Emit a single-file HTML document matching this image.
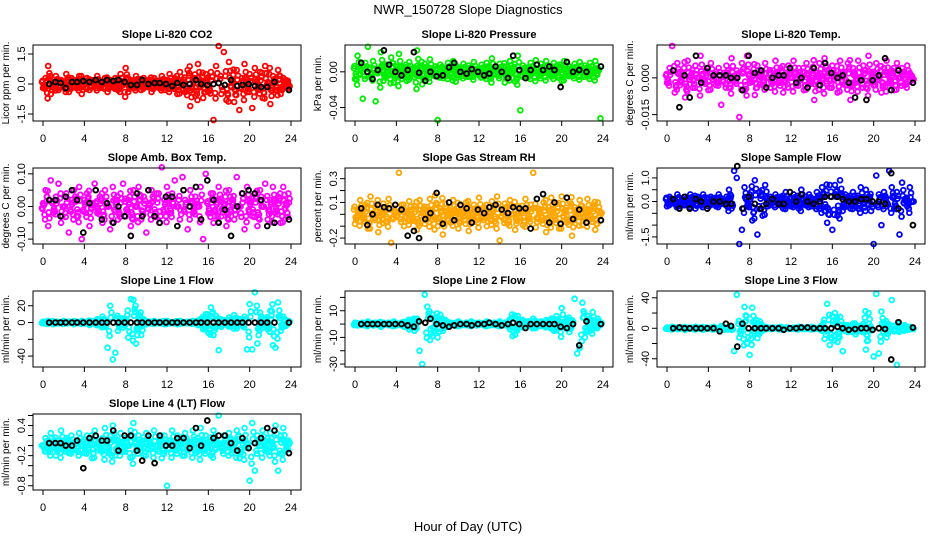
<!DOCTYPE html>
<html><head><meta charset="utf-8">
<style>
html,body{margin:0;padding:0;background:#fff;}
svg{display:block;font-family:"Liberation Sans",sans-serif;}
</style></head>
<body>
<svg id="chart" width="936" height="540" viewBox="0 0 936 540" xmlns="http://www.w3.org/2000/svg">
<rect x="0" y="0" width="936" height="540" fill="#fff"/>
<text x="468" y="14" text-anchor="middle" font-size="13">NWR_150728  Slope Diagnostics</text>
<text x="468" y="531" text-anchor="middle" font-size="13">Hour of Day (UTC)</text>
</svg>
<script>
const hours = [0,0.25,0.5,0.75,1,1.25,1.5,1.75,2,2.25,2.5,2.75,3,3.25,3.5,3.75,4,4.25,4.5,4.75,5,5.25,5.5,5.75,
6,6.25,6.5,6.75,7,7.25,7.5,7.75,8,8.25,8.5,8.75,9,9.25,9.5,9.75,10,10.25,10.5,10.75,11,11.25,11.5,11.75,
12,12.25,12.5,12.75,13,13.25,13.5,13.75,14,14.25,14.5,14.75,15,15.25,15.5,15.75,16,16.25,16.5,16.75,17,17.25,17.5,17.75,
18,18.25,18.5,18.75,19,19.25,19.5,19.75,20,20.25,20.5,20.75,21,21.25,21.5,21.75,22,22.25,22.5,22.75,23,23.25,23.5,23.75];
const blackHours = [0.6,1.2,1.7,2.2,2.8,3.3,3.9,4.5,5.1,5.7,6.2,6.8,7.3,7.9,8.5,9.1,9.6,10.2,10.8,11.3,
11.9,12.5,13.0,13.6,14.2,14.8,15.3,15.9,16.5,17.0,17.6,18.2,18.8,19.3,19.9,20.5,21.1,21.7,22.4,23.8];

const co2Vals = [-0.2,0.3,0.9,-0.5,0.1,0.4,-0.3,0.2,-0.1,0.5,-0.4,0.3,
0.2,-0.2,0.4,-0.5,0.1,0.3,-0.3,0.2,-0.1,0.4,-0.2,0.1,
0.3,-0.4,0.2,-0.1,0.3,-0.3,0.5,0.1,0.8,-0.4,0.2,-0.2,
0.4,0.1,-0.3,0.3,-0.1,0.2,-0.4,0.3,0.1,-0.2,0.4,-0.3,
0.2,0.5,-0.1,0.3,-0.5,0.6,0.1,-0.4,0.7,-1.1,0.3,-0.6,
1.0,0.2,-0.7,0.5,-0.4,0.6,-1.8,0.9,1.9,-0.5,1.6,-0.8,
1.1,0.2,-0.9,0.7,-1.3,0.3,1.0,-0.4,0.5,-1.2,0.8,-0.2,
0.6,-0.7,0.9,0.1,-1.0,0.4,-0.3,0.7,-0.5,0.3,0.2,-0.2];
const co2Black = [0.0,0.1,0.05,-0.2,0.1,0.1,0.15,0.1,0.2,0.1,0.2,0.15,0.2,0.1,-0.05,-0.05,0.2,0.0,0.05,0.05,
0.0,-0.1,0.05,-0.05,0.0,0.2,0.0,-0.05,0.0,0.05,-0.05,0.2,-0.1,-0.05,0.0,-0.1,-0.15,-0.15,0.1,-0.3];

const presVals = [-0.008,0.018,0.004,-0.030,0.010,0.028,-0.006,0.012,-0.033,0.002,0.022,-0.010,
0.008,-0.004,0.016,-0.012,0.006,0.020,-0.008,0.003,-0.010,0.011,0.002,-0.006,
0.024,0.006,-0.014,0.009,-0.004,0.014,-0.002,0.006,-0.054,0.008,-0.007,0.004,
0.010,-0.003,0.012,-0.011,0.005,0.001,0.009,-0.005,0.007,-0.002,0.011,0.003,
-0.004,0.008,0.002,0.010,-0.006,0.015,0.004,-0.003,0.009,0.001,-0.012,0.006,
0.012,0.002,-0.011,0.018,-0.043,0.007,0.004,-0.006,0.010,0.002,0.013,-0.004,
0.009,0.001,0.012,-0.003,0.006,0.010,-0.002,0.008,-0.010,0.012,0.003,0.006,
-0.004,0.009,0.002,0.011,-0.001,0.007,0.003,0.010,-0.002,0.012,0.004,-0.052];
const presBlack = [0.010,0.000,-0.008,0.002,0.024,0.008,0.000,-0.004,0.002,0.022,-0.001,-0.010,0.000,-0.005,-0.004,0.005,0.010,0.000,-0.002,0.003,
0.000,-0.004,-0.002,0.006,0.000,-0.007,0.018,0.002,-0.007,0.002,0.008,0.002,0.006,0.002,-0.017,0.011,0.000,0.002,0.000,0.006];

const tempVals = [-0.002,0.004,0.013,-0.006,0.006,-0.003,0.002,-0.008,0.007,0.001,-0.004,0.005,
0.000,0.009,-0.002,0.003,-0.005,0.006,0.001,-0.003,0.004,-0.011,0.002,0.005,
-0.004,0.008,-0.001,0.003,-0.016,0.006,-0.005,0.009,-0.002,0.002,-0.007,0.005,
0.001,-0.003,0.006,0.000,-0.004,0.003,0.007,-0.002,0.004,-0.006,0.002,0.005,
0.000,0.007,-0.003,0.004,0.001,-0.005,0.006,-0.002,0.003,-0.009,0.002,0.006,
-0.001,0.008,0.003,-0.004,0.005,0.001,-0.006,0.007,0.002,-0.003,0.006,-0.009,
0.004,-0.002,0.007,0.000,0.005,-0.004,0.009,0.002,-0.003,0.006,0.001,-0.006,
0.004,0.007,-0.002,0.003,-0.005,0.006,0.000,0.004,-0.003,0.005,0.002,-0.001];
const tempBlack = [0.003,-0.012,0.001,-0.008,0.009,-0.002,0.004,0.001,0.001,0.001,0.000,0.000,-0.005,0.009,0.002,0.003,-0.004,0.000,0.001,0.001,
0.004,-0.002,0.000,-0.004,0.004,-0.003,0.006,0.002,0.000,0.001,-0.002,-0.008,-0.001,-0.009,-0.001,0.001,0.008,-0.005,0.003,-0.002];

const ambVals = [0.01,0.05,-0.06,0.08,-0.02,0.03,0.07,-0.05,0.00,0.04,-0.08,0.02,
0.05,-0.03,0.06,-0.10,0.02,0.04,-0.06,0.01,0.07,-0.02,0.03,-0.05,
0.05,0.00,-0.07,0.06,0.02,-0.04,0.04,0.07,-0.03,0.02,-0.06,0.05,
0.00,0.06,-0.04,0.03,-0.08,0.01,0.05,-0.03,0.04,-0.05,0.12,0.02,
0.06,-0.02,0.04,0.08,0.00,-0.04,0.09,0.02,-0.07,0.05,-0.02,0.03,
0.00,0.06,-0.10,0.10,-0.02,0.04,-0.05,0.02,0.06,-0.03,0.01,-0.06,
0.05,0.02,-0.04,0.09,0.00,0.04,-0.07,0.06,0.02,-0.03,0.04,-0.06,
0.05,0.00,0.07,-0.04,0.02,0.06,-0.02,0.03,-0.05,0.06,0.01,0.04];
const ambBlack = [0.02,0.02,-0.03,0.03,0.05,0.02,-0.08,0.01,0.05,-0.04,0.01,-0.05,0.00,-0.03,-0.09,0.04,-0.03,0.05,-0.03,-0.05,
0.03,0.03,-0.06,0.05,0.00,0.06,-0.04,0.08,0.02,-0.05,-0.01,-0.09,0.00,0.04,0.05,0.04,0.02,-0.06,-0.05,-0.04];

const rhVals = [-0.08,0.04,0.12,-0.03,0.08,-0.12,0.15,-0.01,0.06,-0.15,0.02,0.09,
-0.06,0.13,-0.24,0.05,-0.02,0.35,0.08,-0.10,0.03,0.11,-0.05,0.07,
-0.13,0.12,0.02,-0.08,0.06,0.13,-0.04,0.16,-0.10,0.05,-0.17,0.09,
0.01,-0.07,0.12,0.03,-0.12,0.07,-0.02,0.10,-0.14,0.04,0.08,-0.05,
0.14,-0.03,0.06,-0.10,0.02,0.11,-0.06,0.15,-0.22,0.03,0.09,-0.08,
0.12,0.00,-0.13,0.07,0.04,-0.09,0.13,-0.04,0.08,0.35,-0.11,0.05,
-0.05,0.10,-0.15,0.06,0.14,-0.02,0.09,-0.12,0.15,0.03,-0.07,0.11,
-0.18,0.06,0.01,0.12,-0.09,0.04,0.13,-0.04,0.08,-0.13,0.10,0.02];
const rhBlack = [0.05,-0.09,0.00,0.08,0.06,0.05,0.08,0.04,-0.18,-0.14,-0.20,-0.04,0.01,0.18,-0.08,0.10,-0.05,0.08,0.05,-0.07,
0.04,0.01,0.06,0.08,0.04,0.01,0.06,0.05,0.05,-0.12,0.13,0.17,-0.07,0.10,-0.08,0.14,-0.04,0.04,-0.07,-0.05];

const flowVals = [-0.2,0.2,0.1,-0.1,0.3,-0.2,0.0,0.2,-0.1,0.3,0.1,-0.3,
0.2,-0.1,0.3,0.0,-0.2,0.2,0.1,-0.2,0.3,-0.1,0.0,0.2,
0.5,-0.3,1.3,1.0,-1.8,-1.2,0.6,-0.2,0.3,-0.8,0.9,-1.4,
0.4,-0.6,0.7,-0.2,0.2,0.0,0.3,-0.1,0.2,-0.3,0.4,0.0,
-0.2,0.3,0.1,-0.3,0.5,-0.1,0.2,0.3,-0.2,0.1,0.4,-0.3,
0.6,-0.4,-0.9,0.7,-1.2,0.7,-0.6,0.9,-0.4,0.3,0.2,-0.3,
0.4,0.1,-0.3,0.6,-0.1,0.5,0.2,-0.4,-1.8,1.1,0.3,-1.0,
0.4,-0.2,1.3,0.6,-0.3,0.4,-1.4,0.8,0.1,-0.2,0.6,0.0];
const flowBlack = [0.1,-0.3,0.2,-0.3,0.1,0.0,-0.3,0.0,0.0,-0.1,-0.1,1.5,-0.3,0.2,-0.1,-0.3,-0.1,0.1,-0.1,-0.1,
0.4,0.0,0.3,0.0,-0.1,0.0,0.2,0.2,0.2,0.1,0.0,0.0,0.1,0.1,0.0,0.0,-0.1,1.2,-0.3,-1.0];

const line1Vals = [1,-1,2,0,-2,1,-1,0,2,-1,1,0,
-2,1,0,2,-1,1,-3,2,0,4,-3,7,
-5,-30,20,-44,-36,-10,5,-6,4,-18,28,27,
-25,10,-15,4,-2,1,-1,2,0,-1,1,-2,
2,-1,0,1,-2,2,-1,0,1,-1,2,0,
-3,4,-8,10,-12,18,-15,8,-33,-5,3,-2,
6,-4,9,-7,4,-3,7,-32,22,-32,36,-25,
12,-6,4,-8,14,-27,-30,24,-10,7,-4,2];
const line1Black = [0,0,0,0,0,0,0,0,0,0,0,0,0,0,0,0,0,0,0,0,
0,0,0,0,0,0,0,0,0,0,0,0,0,0,0,0,0,0,0,0];

const line2Vals = [1,-1,0,1,-1,2,0,-1,1,0,-2,1,
0,1,-1,2,-1,0,1,-2,2,-4,3,-5,
4,-20,-30,22,13,-12,-9,4,-10,7,-5,3,
-2,1,0,-1,2,-1,0,1,-1,2,0,-1,
1,0,-1,2,-1,0,1,-1,2,0,1,-1,
-4,-9,-8,6,-2,3,-1,2,-1,4,-3,1,
2,-1,3,-2,4,-5,6,-3,12,-2,4,-6,
3,19,-22,-18,16,-10,6,-5,9,-2,4,1];
const line2Black = [0,0,0,0,0,0,0,0,-1,-2,2,1,4,0,-1,-2,-1,0,0,-1,
0,0,1,0,-1,0,1,0,-3,0,0,0,0,0,-2,-3,0,-16,2,0];

const line3Vals = [1,-1,2,0,-1,1,0,-2,1,0,-1,2,
0,1,-2,1,0,-1,2,-1,0,3,-2,1,
2,-2,-30,44,-12,4,28,-20,-35,27,8,-13,
9,-3,2,0,-1,1,0,-1,2,0,1,-1,
0,1,-1,2,0,-1,1,0,2,-1,0,1,
4,-14,32,-22,16,20,-18,15,-30,4,-5,2,
6,-8,3,-2,6,-28,20,-3,-37,45,-33,22,
8,-12,5,37,-4,-48,6,-3,4,-2,2,-1];
const line3Black = [0,1,0,0,0,0,0,0,-4,6,3,-24,6,0,0,0,0,0,0,-2,
0,0,1,1,0,0,0,0,2,0,-2,-1,0,0,-2,0,-1,-41,8,1];

const line4Vals = [0.0,0.15,-0.1,0.25,0.05,-0.2,0.1,0.3,-0.05,0.15,-0.15,0.2,
0.05,-0.1,0.25,0.0,-0.15,0.2,0.1,-0.25,0.3,0.05,-0.1,0.15,
0.35,-0.05,0.2,0.4,-0.2,0.1,0.25,-0.1,0.15,0.0,0.3,0.45,
-0.1,0.2,0.05,-0.2,0.25,0.1,-0.05,0.3,0.0,0.15,-0.25,0.2,
-0.8,0.1,0.3,-0.1,0.2,0.05,-0.2,0.25,0.1,0.0,0.3,-0.15,
0.15,0.35,-0.1,0.2,0.05,-0.2,0.3,0.1,0.6,-0.05,0.2,0.0,
0.25,-0.15,0.1,0.3,-0.25,0.15,0.35,0.05,-0.7,0.45,-0.5,0.2,
0.0,0.3,-0.1,0.15,0.25,-0.05,0.4,-0.5,0.2,0.35,-0.1,0.1];
const line4Black = [0.05,0.05,0.05,0.0,0.0,0.1,-0.45,0.15,0.2,0.1,0.1,0.3,-0.1,0.2,0.2,-0.1,-0.3,0.2,-0.35,0.2,
0.0,0.0,0.15,0.15,-0.05,0.35,0.0,0.5,0.15,0.2,0.2,0.05,-0.1,0.15,-0.05,0.05,0.15,0.35,0.3,-0.15];

const titles = ["Slope Li-820 CO2","Slope Li-820 Pressure","Slope Li-820 Temp.","Slope Amb. Box Temp.","Slope Gas Stream RH","Slope Sample Flow","Slope Line 1 Flow","Slope Line 2 Flow","Slope Line 3 Flow","Slope Line 4 (LT) Flow"];
const yTitles = ["Licor ppm per min.","kPa per min.","degrees C per min.","degrees C per min.","percent per min.","ml/min per min.","ml/min per min.","ml/min per min.","ml/min per min.","ml/min per min."];
const yTicks = [[-1.5,0,1.5],[-0.04,0],[-0.015,0],[-0.1,-0.05,0,0.05,0.1],[-0.2,-0.1,0,0.1,0.2,0.3],[-1.5,-1,-0.5,0,0.5,1],[-40,-20,0,20],[-30,-20,-10,0,10,20],[-40,-20,0,20,40],[-0.8,-0.6,-0.4,-0.2,0,0.2,0.4,0.6]];
const yTickLabels = [["-1.5","0.0","1.5"],["-0.04","0.00"],["-0.015","0.000"],["-0.10","","0.00","","0.10"],["-0.2","","","0.1","","0.3"],["-1.5","","","0.0","","1.0"],["-40","","0","20"],["-30","","-10","","10",""],["-40","","0","","40"],["-0.8","","","-0.2","","","0.4",""]];
const xTicks = [0,4,8,12,16,20,24];
const xTickLabels = ["0","4","8","12","16","20","24"];
const colors = ["#ff0000","#00ee00","#ff00ff","#ff00ff","#ffa500","#0000ff","#00ffff","#00ffff","#00ffff","#00ffff"];
const yDomains = [[-1.85,1.95],[-0.055,0.03],[-0.0176,0.0134],[-0.115,0.118],[-0.25,0.39],[-1.8,1.42],[-53,37.6],[-32.2,24.8],[-50.8,48.9],[-0.885,0.63]];
const seriesVals = [co2Vals,presVals,tempVals,ambVals,rhVals,flowVals,line1Vals,line2Vals,line3Vals,line4Vals];
const seriesBlack = [co2Black,presBlack,tempBlack,ambBlack,rhBlack,flowBlack,line1Black,line2Black,line3Black,line4Black];

const NS = "http://www.w3.org/2000/svg";
const svg = document.getElementById("chart");
function mk(tag, attrs, parent){
  const e = document.createElementNS(NS, tag);
  for (const k in attrs) e.setAttribute(k, attrs[k]);
  parent.appendChild(e);
  return e;
}
const echo = [[0,1],[0.12,0.6],[-0.1,-0.5],[0.06,0.3],[-0.05,-0.8]];
for (let p = 0; p < 10; p++){
  const col = p % 3, row = Math.floor(p / 3);
  const L = 33 + 312 * col, T = 45 + 123 * row, W = 268, H = 76;
  const xs = v => L + 10 + v / 24 * 248;
  const dom = yDomains[p];
  const ys = v => T + H - (v - dom[0]) / (dom[1] - dom[0]) * H;
  const g = mk("g", {}, svg);
  
  
  const t = mk("text", {x: L + W / 2, y: T - 7, "text-anchor": "middle", "font-size": 11, "font-weight": "bold"}, g);
  t.textContent = titles[p];
  
  
  const yt = mk("text", {x: 0, y: 0, "text-anchor": "middle", "font-size": 10, transform: "translate(" + (L - 24) + "," + (T + H / 2) + ") rotate(-90)"}, g);
  yt.textContent = yTitles[p];
  
  
  const pts = mk("g", {fill: "none"}, g);
  
  
  const vals = seriesVals[p];
  for (let i = 0; i < vals.length && i < hours.length; i++){
    for (let k = 0; k < echo.length; k++){
      if (k > 0 && Math.abs(vals[i]) > (dom[1] - dom[0]) * 0.3) continue;
      const c = mk("circle", {cx: xs(hours[i] + echo[k][0]), cy: ys(vals[i] * echo[k][1]), r: 2.4, stroke: colors[p], "stroke-width": 1.8}, pts);
      
      
    }
  }
  const bl = seriesBlack[p];
  for (let i = 0; i < bl.length && i < blackHours.length; i++){
    const c = mk("circle", {cx: xs(blackHours[i]), cy: ys(bl[i]), r: 2.4, stroke: "#000", "stroke-width": 1.9}, pts);
    
    
  }
  const box = mk("rect", {x: L, y: T, width: W, height: H, fill: "none", stroke: "#000", "stroke-width": 1}, g);
  
  
  const xa = mk("g", {}, g);
  
  
  mk("line", {x1: xs(0), x2: xs(24), y1: T + H, y2: T + H, stroke: "#000"}, xa);
  xTicks.forEach((v, i) => {
    mk("line", {x1: xs(v), x2: xs(v), y1: T + H, y2: T + H + 5, stroke: "#000"}, xa);
    const lt = mk("text", {x: xs(v), y: T + H + 21, "text-anchor": "middle", "font-size": 11}, xa);
    lt.textContent = xTickLabels[i];
    
    
  });
  const ya = mk("g", {}, g);
  
  
  const tk = yTicks[p];
  mk("line", {x1: L, x2: L, y1: ys(tk[0]), y2: ys(tk[tk.length - 1]), stroke: "#000"}, ya);
  tk.forEach((v, i) => {
    mk("line", {x1: L - 5, x2: L, y1: ys(v), y2: ys(v), stroke: "#000"}, ya);
    const s = yTickLabels[p][i];
    if (s){
      const lt = mk("text", {x: 0, y: 0, "text-anchor": "middle", "font-size": 11, transform: "translate(" + (L - 8) + "," + ys(v) + ") rotate(-90)"}, ya);
      lt.textContent = s;
      
      
    }
  });
}
</script>
</body></html>
